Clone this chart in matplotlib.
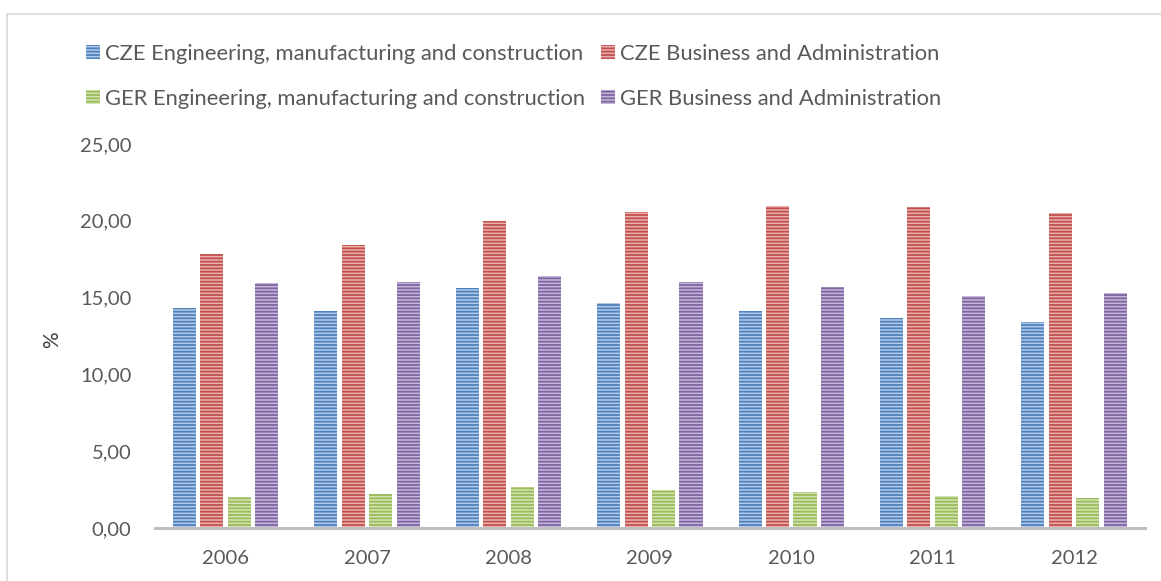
import numpy as np
import matplotlib.pyplot as plt
from matplotlib.patches import Rectangle

plt.rcParams['font.family'] = ['Lato', 'DejaVu Sans']
plt.rcParams['hatch.linewidth'] = 1.3

years = ['2006', '2007', '2008', '2009', '2010', '2011', '2012']
series_names = [
    'CZE Engineering, manufacturing and construction',
    'CZE Business and Administration',
    'GER Engineering, manufacturing and construction',
    'GER Business and Administration',
]
cze_eng = [14.30, 14.15, 15.60, 14.65, 14.10, 13.70, 13.40]
cze_bus = [17.85, 18.40, 20.00, 20.60, 20.95, 20.90, 20.50]
ger_eng = [2.05, 2.20, 2.70, 2.45, 2.35, 2.10, 1.95]
ger_bus = [15.95, 16.00, 16.40, 16.00, 15.70, 15.10, 15.30]

# (light fill, stripe colour) per series
fills = ['#b3cbe8', '#eab0ae', '#d3e4b4', '#c5b7d9']
stripes = ['#4f81bd', '#c0504d', '#9bbb59', '#8064a2']
text_grey = '#595959'

fig = plt.figure(figsize=(11.61, 5.81), dpi=100)
ax = fig.add_axes([0.1335, 0.0912, 0.8525, 0.6608])

x = np.arange(len(years))
step = 0.194
width = 0.163
bars = []
for i, vals in enumerate([cze_eng, cze_bus, ger_eng, ger_bus]):
    b = ax.bar(x + (i - 1.5) * step, vals, width, color=fills[i],
               edgecolor=stripes[i], linewidth=0, hatch='-----',
               label=series_names[i])
    bars.append(b)

ax.set_xlim(-0.5, len(years) - 0.5)
ax.set_ylim(0, 25)
ax.set_yticks(np.arange(0, 26, 5))
ax.set_yticklabels([f'{v:.2f}'.replace('.', ',') for v in np.arange(0, 26, 5)])
ax.set_xticks(x)
ax.set_xticklabels(years)
ax.tick_params(axis='both', length=0, labelsize=14.5, colors=text_grey)
ax.tick_params(axis='y', pad=17)
ax.tick_params(axis='x', pad=16)

for side in ['top', 'right', 'left']:
    ax.spines[side].set_visible(False)
ax.spines['bottom'].set_color('#bfbfbf')
ax.spines['bottom'].set_linewidth(2.2)

ax.set_ylabel('%', fontsize=15, color='#404040')
ax.yaxis.set_label_coords(-0.094, 0.49)

# legend fills column by column, so order handles to read row-wise
order = [0, 2, 1, 3]
fig.legend([bars[k] for k in order], [series_names[k] for k in order],
           loc='upper left', bbox_to_anchor=(0.0646, 0.944), ncol=2,
           frameon=False, fontsize=15.8, borderpad=0, handlelength=0.64,
           handleheight=0.64, handletextpad=0.23, columnspacing=0.73,
           labelspacing=1.15, labelcolor=text_grey)

# light chart border
fig.patches.append(Rectangle((7 / 1161, -0.1), 1.2, 1 - 14 / 581 + 0.1,
                             transform=fig.transFigure, fill=False,
                             edgecolor='#d9d9d9', linewidth=1.2))

fig.savefig('out.png', dpi=100)
